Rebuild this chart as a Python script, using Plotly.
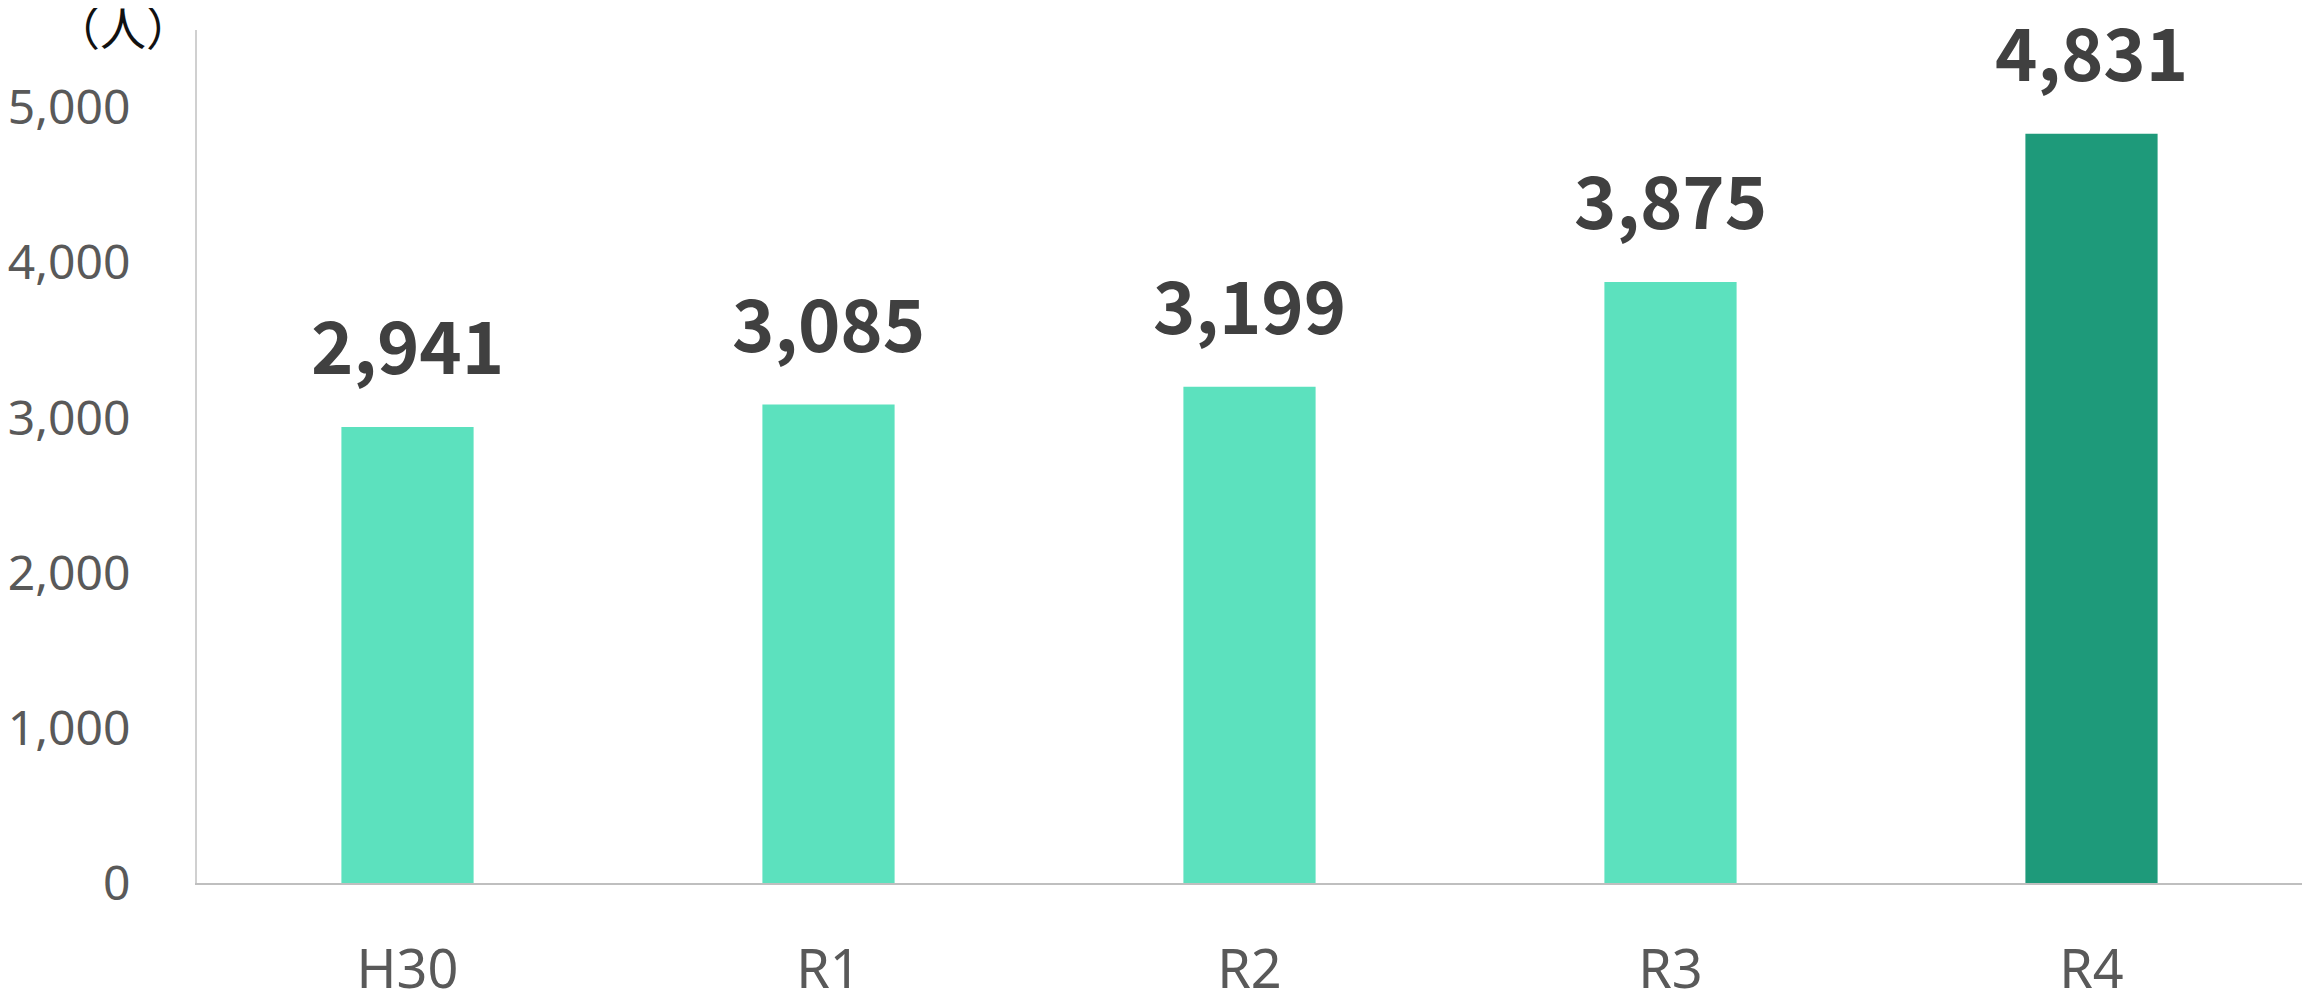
import plotly.graph_objects as go

categories = ["H30", "R1", "R2", "R3", "R4"]
values = [2941, 3085, 3199, 3875, 4831]
bar_colors = ["#5CE1BE", "#5CE1BE", "#5CE1BE", "#5CE1BE", "#1E9A7A"]
y_ticks = [0, 1000, 2000, 3000, 4000, 5000]
y_tick_labels = ["0", "1,000", "2,000", "3,000", "4,000", "5,000"]
unit_label = "（人）"

# page has an 8px body margin; compensate
OFF = 8
W, H = 2310 - OFF, 992 - OFF
L, T = 197 - OFF, 30 - OFF
R = W - (2302 - OFF)
B = H - (883 - OFF)
plot_w = W - L - R
plot_h = H - T - B

fig = go.Figure()
fig.add_trace(go.Bar(
    x=categories, y=values,
    marker=dict(color=bar_colors, line=dict(width=0)),
    width=0.314,
    hoverinfo="x+y",
))

for c, v in zip(categories, values):
    fig.add_annotation(
        x=c, y=v, text=f"{v:,}", showarrow=False,
        yanchor="bottom", yshift=30,
        font=dict(family="Noto Sans CJK JP", size=72, color="#404040", weight="bold"),
    )

# unit label: centre at page (123, 25)
fig.add_annotation(
    x=((123 - OFF) - L) / plot_w, y=((H - B) - (25 - OFF)) / plot_h,
    xref="x domain", yref="y domain", text=unit_label, showarrow=False,
    xanchor="center", yanchor="middle",
    font=dict(family="Noto Sans CJK JP", size=46, color="#111111"),
)

fig.update_layout(
    width=W, height=H,
    margin=dict(l=L, r=R, t=T, b=B),
    paper_bgcolor="white", plot_bgcolor="white",
    showlegend=False,
)

fig.update_xaxes(
    showline=True, linecolor="#BFBFBF", linewidth=2,
    showgrid=False, ticks="", ticklabelstandoff=38, automargin=False,
    tickfont=dict(family="Noto Sans", size=54, color="#595959"),
    zeroline=False,
)
fig.update_yaxes(
    range=[0, 5500],
    tickvals=y_ticks, ticktext=y_tick_labels,
    showline=True, linecolor="#D0D0D0", linewidth=2,
    showgrid=False, zeroline=False, ticks="", ticklabelstandoff=55, automargin=False,
    tickfont=dict(family="Noto Sans", size=48, color="#595959"),
)

fig.write_html("out.html")
